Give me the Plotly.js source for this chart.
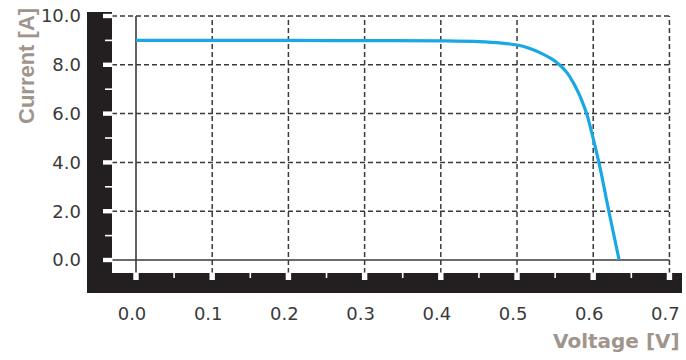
<!DOCTYPE html>
<html>
<head>
<meta charset="utf-8">
<script src="https://cdn.plot.ly/plotly-3.0.1.min.js"></script>
<style>html,body{margin:0;padding:0;background:#fff;}#chart{width:686px;height:360px;}</style>
</head>
<body>
<div id="chart"></div>
<script>
// ---- data ----
const voltage = [0, 0.1, 0.2, 0.3, 0.4, 0.45, 0.48, 0.5, 0.515, 0.53, 0.545, 0.5564, 0.566, 0.574, 0.5805, 0.5849, 0.5915, 0.5958, 0.6076, 0.6205, 0.634];
const current = [9.0, 9.0, 9.0, 8.99, 8.98, 8.95, 8.89, 8.81, 8.69, 8.50, 8.25, 7.98, 7.66, 7.26, 6.86, 6.54, 5.98, 5.5, 3.98, 2.0, 0];
const xTicks = [0, 0.1, 0.2, 0.3, 0.4, 0.5, 0.6, 0.7];
const xMinor = [0.05, 0.15, 0.25, 0.35, 0.45, 0.55, 0.65];
const yTicks = [0, 2, 4, 6, 8, 10];
const yMinor = [1, 3, 5, 7, 9];
const xTickText = xTicks.map(v => v.toFixed(1));
const yTickText = yTicks.map(v => v.toFixed(1));

// ---- geometry ----
const W = 686, H = 360;
const M = {l: 87, r: 4, t: 12, b: 67};
const pw = W - M.l - M.r, ph = H - M.t - M.b;
const xRange = [-0.0643, 0.7165];
const yRange = [-1.352, 10.164];
const px2x = p => xRange[0] + (p - M.l) / pw * (xRange[1] - xRange[0]);
const py2y = p => yRange[1] - (p - M.t) / ph * (yRange[1] - yRange[0]);
const dxp = d => d / pw * (xRange[1] - xRange[0]);
const dyp = d => d / ph * (yRange[1] - yRange[0]);

const BAR = '#231f20';
const GRID = '#3a3a3a';
const barInnerX = px2x(112);
const barInnerY = py2y(273);
const xMax = xTicks[xTicks.length - 1];
const yMax = yTicks[yTicks.length - 1];

const shapes = [];
// grid lines
yTicks.forEach(t => {
  shapes.push({type: 'line', xref: 'x', yref: 'y', layer: 'below',
    x0: barInnerX, x1: xMax, y0: t, y1: t,
    line: {color: GRID, width: t === 0 ? 1.4 : 1.5, dash: t === 0 ? 'solid' : '5px,3px'}});
});
xTicks.forEach(t => {
  shapes.push({type: 'line', xref: 'x', yref: 'y', layer: 'below',
    x0: t, x1: t, y0: barInnerY, y1: yMax,
    line: {color: GRID, width: t === 0 ? 1.6 : 1.5, dash: t === 0 ? 'solid' : '5px,3px'}});
});
// black frame bars
shapes.push({type: 'rect', xref: 'x', yref: 'y', layer: 'above',
  x0: xRange[0], x1: barInnerX, y0: yRange[0], y1: yRange[1],
  fillcolor: BAR, line: {width: 0}});
shapes.push({type: 'rect', xref: 'x', yref: 'y', layer: 'above',
  x0: xRange[0], x1: xRange[1], y0: yRange[0], y1: barInnerY,
  fillcolor: BAR, line: {width: 0}});
// white notches (ticks)
yTicks.forEach(t => {
  shapes.push({type: 'rect', xref: 'x', yref: 'y', layer: 'above',
    x0: barInnerX - dxp(9), x1: barInnerX + dxp(0.5), y0: t - dyp(2.2), y1: t + dyp(2.2),
    fillcolor: '#ffffff', line: {width: 0}});
});
yMinor.forEach(t => {
  shapes.push({type: 'rect', xref: 'x', yref: 'y', layer: 'above',
    x0: barInnerX - dxp(7), x1: barInnerX + dxp(0.5), y0: t - dyp(0.8), y1: t + dyp(0.8),
    fillcolor: '#ffffff', line: {width: 0}});
});
xTicks.forEach(t => {
  shapes.push({type: 'rect', xref: 'x', yref: 'y', layer: 'above',
    x0: t - dxp(2.7), x1: t + dxp(2.7), y0: barInnerY - dyp(7), y1: barInnerY + dyp(0.5),
    fillcolor: '#ffffff', line: {width: 0}});
});
xMinor.forEach(t => {
  shapes.push({type: 'rect', xref: 'x', yref: 'y', layer: 'above',
    x0: t - dxp(0.8), x1: t + dxp(0.8), y0: barInnerY - dyp(5), y1: barInnerY + dyp(0.5),
    fillcolor: '#ffffff', line: {width: 0}});
});

const LABEL = '#9f958d';
const annotations = [
  {text: 'Current [A]', xref: 'paper', yref: 'paper',
   x: (26 - M.l) / pw, y: (M.t + ph - 66) / ph, xanchor: 'center', yanchor: 'middle',
   textangle: -90, showarrow: false,
   font: {family: 'Liberation Sans, Arial, sans-serif', size: 22, color: LABEL, weight: 'bold'}},
  {text: 'Voltage [V]', xref: 'paper', yref: 'paper',
   x: (616 - M.l) / pw, y: (M.t + ph - 341) / ph, xanchor: 'center', yanchor: 'middle',
   showarrow: false,
   font: {family: 'DejaVu Sans, sans-serif', size: 20, color: LABEL, weight: 'bold'}}
];

const trace = {
  x: voltage, y: current, type: 'scatter', mode: 'lines',
  line: {color: '#19a8e3', width: 3.2, shape: 'spline', smoothing: 1},
  hoverinfo: 'skip'
};

const tickFont = {family: 'DejaVu Sans, sans-serif', size: 18, color: '#3a3a3a'};
const layout = {
  width: W, height: H,
  margin: {l: M.l, r: M.r, t: M.t, b: M.b, pad: 0},
  paper_bgcolor: '#ffffff', plot_bgcolor: '#ffffff',
  showlegend: false,
  xaxis: {range: xRange, tickmode: 'array', tickvals: xTicks, ticktext: xTickText,
    showgrid: false, zeroline: false, showline: false, ticks: '', automargin: false,
    tickfont: tickFont, ticklabelshift: -4, ticklabelstandoff: 8, fixedrange: true},
  yaxis: {range: yRange, tickmode: 'array', tickvals: yTicks, ticktext: yTickText,
    showgrid: false, zeroline: false, showline: false, ticks: '', automargin: false,
    tickfont: tickFont, ticklabelstandoff: 5, fixedrange: true},
  shapes: shapes,
  annotations: annotations
};

Plotly.newPlot('chart', [trace], layout, {displayModeBar: false, staticPlot: true});
</script>
</body>
</html>
